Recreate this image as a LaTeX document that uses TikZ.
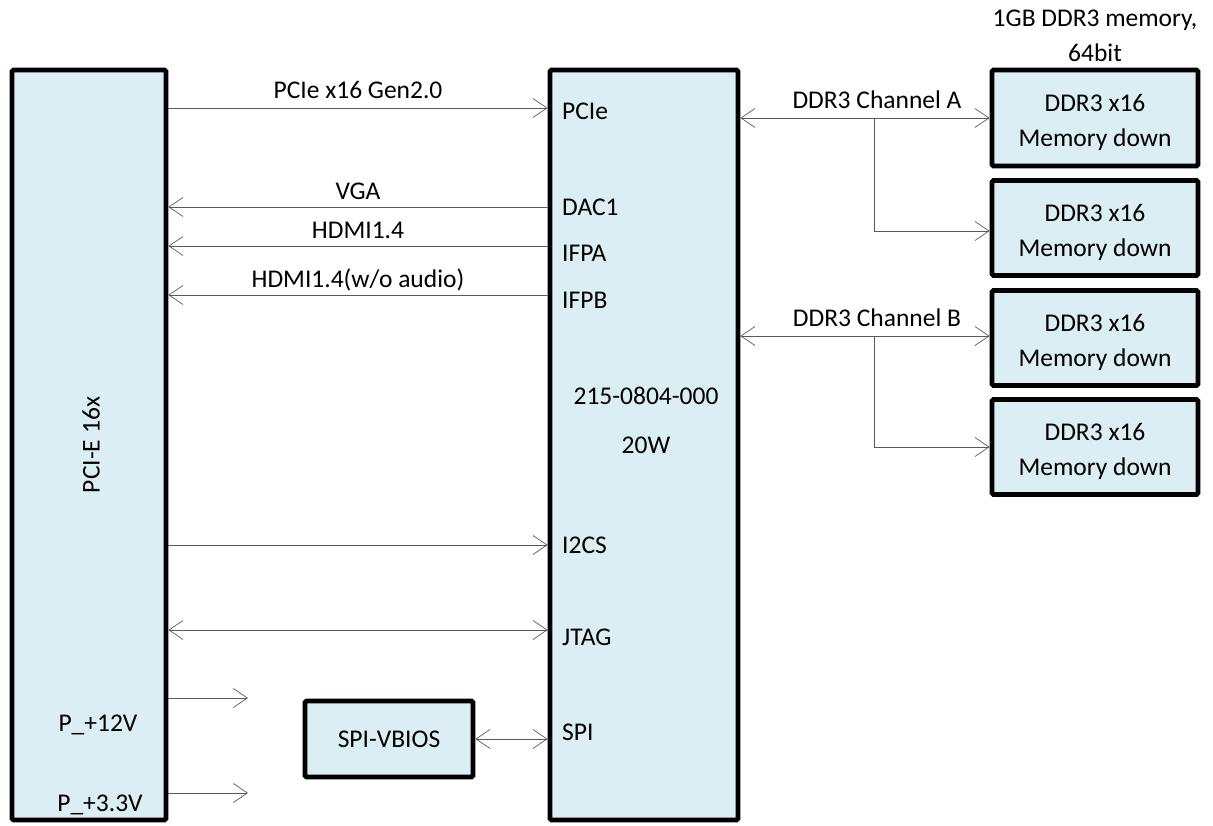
\documentclass[tikz,border=0pt]{standalone}
\usepackage{fontspec}
\setmainfont{Carlito}
\usetikzlibrary{arrows.meta}
\definecolor{boxfill}{HTML}{DAEEF3}
\definecolor{wire}{HTML}{595959}
\tikzset{
  tip/.tip={Straight Barb[length=14pt,width=19pt,line width=0.7pt]},
  blk/.style={draw=black, line width=4.8pt, fill=boxfill, rounded corners=1.5pt, inner sep=0pt},
  arr/.style={draw=wire, line width=0.9pt, -tip},
  darr/.style={draw=wire, line width=0.9pt, tip-tip},
  lbl/.style={font=\fontsize{25.5}{35}\selectfont, inner sep=0pt},
  blbl/.style={lbl, anchor=base},
  wlbl/.style={lbl, anchor=base west},
  mtxt/.style={lbl, align=center, yshift=-4pt},
}
\begin{document}
\begin{tikzpicture}[x=1pt,y=-1pt]
\useasboundingbox (0,0) rectangle (1213,825);
% boxes
\node[blk, minimum width=154, minimum height=750] (pcie) at (89,445) {};
\node[lbl, rotate=90] (pcietxt) at (91,445) {PCI-E 16x};
\node[blk, minimum width=188, minimum height=750] (gpu) at (644,445) {};
\node[blk, minimum width=168, minimum height=76] (spi) at (389,739) {};
\node[blbl] (spitxt) at (389,747) {SPI-VBIOS};
\node[blk, minimum width=206, minimum height=96] (m1) at (1095,118) {};
\node[blk, minimum width=206, minimum height=95] (m2) at (1095,228) {};
\node[blk, minimum width=206, minimum height=95] (m3) at (1095,338) {};
\node[blk, minimum width=206, minimum height=95] (m4) at (1095,447) {};
\node[mtxt] (m1t) at (m1) {DDR3 x16\\Memory down};
\node[mtxt] (m2t) at (m2) {DDR3 x16\\Memory down};
\node[mtxt] (m3t) at (m3) {DDR3 x16\\Memory down};
\node[mtxt] (m4t) at (m4) {DDR3 x16\\Memory down};
\node[lbl, align=center] (memtitle) at (1095,36) {1GB DDR3 memory,\\64bit};
% gpu port labels
\node[wlbl] (pPCIe) at (562,119) {PCIe};
\node[wlbl] (pDAC) at (562,215) {DAC1};
\node[wlbl] (pIFPA) at (562,261) {IFPA};
\node[wlbl] (pIFPB) at (562,308) {IFPB};
\node[blbl] (chip) at (646,404) {215-0804-000};
\node[blbl] (watt) at (646,453) {20W};
\node[wlbl] (pI2C) at (562,553) {I2CS};
\node[wlbl] (pJTAG) at (562,645) {JTAG};
\node[wlbl] (pSPI) at (562,740) {SPI};
% left labels
\node[blbl] (p12) at (98,731) {P\_+12V};
\node[blbl] (p33) at (100,811) {P\_+3.3V};
% connectors
\draw[arr] (pcie.east |- 0,108) -- node[blbl, yshift=10pt] (l1) {PCIe x16 Gen2.0} (gpu.west |- 0,108);
\draw[arr] (gpu.west |- 0,207) -- node[blbl, yshift=8pt] (l2) {VGA} (pcie.east |- 0,207);
\draw[arr] (gpu.west |- 0,246) -- node[blbl, yshift=8pt] (l3) {HDMI1.4} (pcie.east |- 0,246);
\draw[arr] (gpu.west |- 0,295) -- node[blbl, yshift=8pt] (l4) {HDMI1.4(w/o audio)} (pcie.east |- 0,295);
\draw[arr] (pcie.east |- 0,545) -- (gpu.west |- 0,545);
\draw[darr] (pcie.east |- 0,630) -- (gpu.west |- 0,630);
\coordinate (e12) at (248,698);
\coordinate (e33) at (248,793);
\draw[arr] (pcie.east |- e12) -- (e12);
\draw[arr] (pcie.east |- e33) -- (e33);
\draw[darr] (spi.east) -- (gpu.west |- spi.east);
% DDR channels
\coordinate (ja) at (874,118);
\coordinate (jb) at (874,336);
\draw[darr] (gpu.east |- ja) -- (m1.west |- ja);
\node[blbl] (cha) at (877,108) {DDR3 Channel A};
\draw[arr] (ja) |- (m2.west |- 0,231);
\draw[darr] (gpu.east |- jb) -- (m3.west |- jb);
\node[blbl] (chb) at (877,326) {DDR3 Channel B};
\draw[arr] (jb) |- (m4.west |- 0,447);
\end{tikzpicture}
\end{document}
